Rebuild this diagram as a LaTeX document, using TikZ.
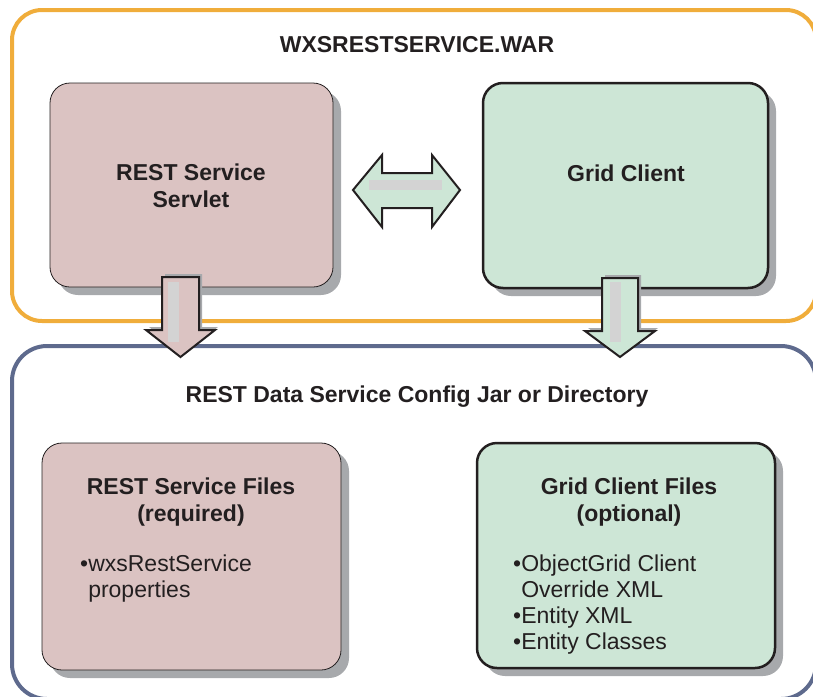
\documentclass[tikz,border=0pt]{standalone}
\usepackage{fontspec}
\setmainfont{Liberation Sans}
\usetikzlibrary{shadows}
\definecolor{orng}{HTML}{F0AD3B}
\definecolor{blu}{HTML}{5E6A8D}
\definecolor{pinkf}{HTML}{DBC3C2}
\definecolor{greenf}{HTML}{CDE6D6}
\definecolor{shad}{HTML}{A7A9AC}
\definecolor{barg}{HTML}{D3D3D3}
\definecolor{txt}{HTML}{231F20}
\begin{document}
\begin{tikzpicture}[x=1pt,y=-1pt,
  lbl/.style={font=\fontsize{23}{26.5}\selectfont\bfseries, text=txt, align=center, inner sep=0},
  lst/.style={font=\fontsize{23}{26}\selectfont, text=txt, align=left, inner sep=0},
  outerbox/.style={line width=4, rounded corners=30},
  filebox/.style={rectangle, rounded corners=20, draw=txt, inner sep=0,
    drop shadow={shadow xshift=8pt, shadow yshift=-8pt, fill=shad, opacity=1}},
  blockarrow/.style={draw=txt, line width=2, line join=miter},
  innerbar/.style={fill=barg},
]
\useasboundingbox (0,0) rectangle (813,696);
\clip (0,0) rectangle (813,696);

% outer containers
\draw[outerbox, draw=orng] (12,10) rectangle (816,321);
\draw[outerbox, draw=blu, rounded corners=35] (12,346) rectangle (816,699);

% boxes
\node (rss) [filebox, fill=pinkf, line width=0.8, minimum width=283, minimum height=204] at (191.5,185) {};
\node (gc) [filebox, fill=greenf, line width=2.5, minimum width=285, minimum height=205] at (625.5,185.5) {};
\node (rsf) [filebox, fill=pinkf, line width=0.8, minimum width=299, minimum height=227] at (191.5,556.5) {};
\node (gcf) [filebox, fill=greenf, line width=2.5, minimum width=298, minimum height=225] at (626,555.5) {};

% texts
\node (t1) [lbl] at (417,45) {WXSRESTSERVICE.WAR};
\node (t2) [lbl] at (417,397) {REST Data Service Config Jar or Directory};
\node (t3) [lbl] at (191,186) {REST Service\\Servlet};
\node (t4) [lbl] at (626,173) {Grid Client};
\node (t5) [lbl] at (191,502) {REST Service Files\\(required)};
\node (t6) [lbl] at (629,502) {Grid Client Files\\(optional)};
\node (l1) [lst, anchor=base west] at (80,597) {\textbullet wxsRestService\\\phantom{\textbullet}properties};
\node (l2) [lst, anchor=base west] at (513,649) {\textbullet ObjectGrid Client\\\phantom{\textbullet}Override XML\\\textbullet Entity XML\\\textbullet Entity Classes};

% double arrow
\draw[blockarrow, fill=greenf] (353,190) -- (382,155) -- (382,173) -- (432,173) -- (432,155) -- (460,190)
  -- (432,227) -- (432,208) -- (382,208) -- (382,227) -- cycle;
\fill[innerbar] (369,180) rectangle (442,190);

% left down arrow
\fill[shad, shift={(3,-3)}] (162,277) -- (199,277) -- (199,330) -- (215,330) -- (180.5,357) -- (146,330) -- (162,330) -- cycle;
\draw[blockarrow, fill=pinkf] (162,277) -- (199,277) -- (199,330) -- (215,330) -- (180.5,357) -- (146,330) -- (162,330) -- cycle;
\fill[innerbar] (168,282) rectangle (179,342);

% right down arrow
\fill[shad, shift={(3,-3)}] (602,278) -- (638,278) -- (638,331) -- (655,331) -- (620,357) -- (585,331) -- (602,331) -- cycle;
\draw[blockarrow, fill=greenf] (602,278) -- (638,278) -- (638,331) -- (655,331) -- (620,357) -- (585,331) -- (602,331) -- cycle;
\fill[innerbar] (610,282) rectangle (621,342);
\end{tikzpicture}
\end{document}
